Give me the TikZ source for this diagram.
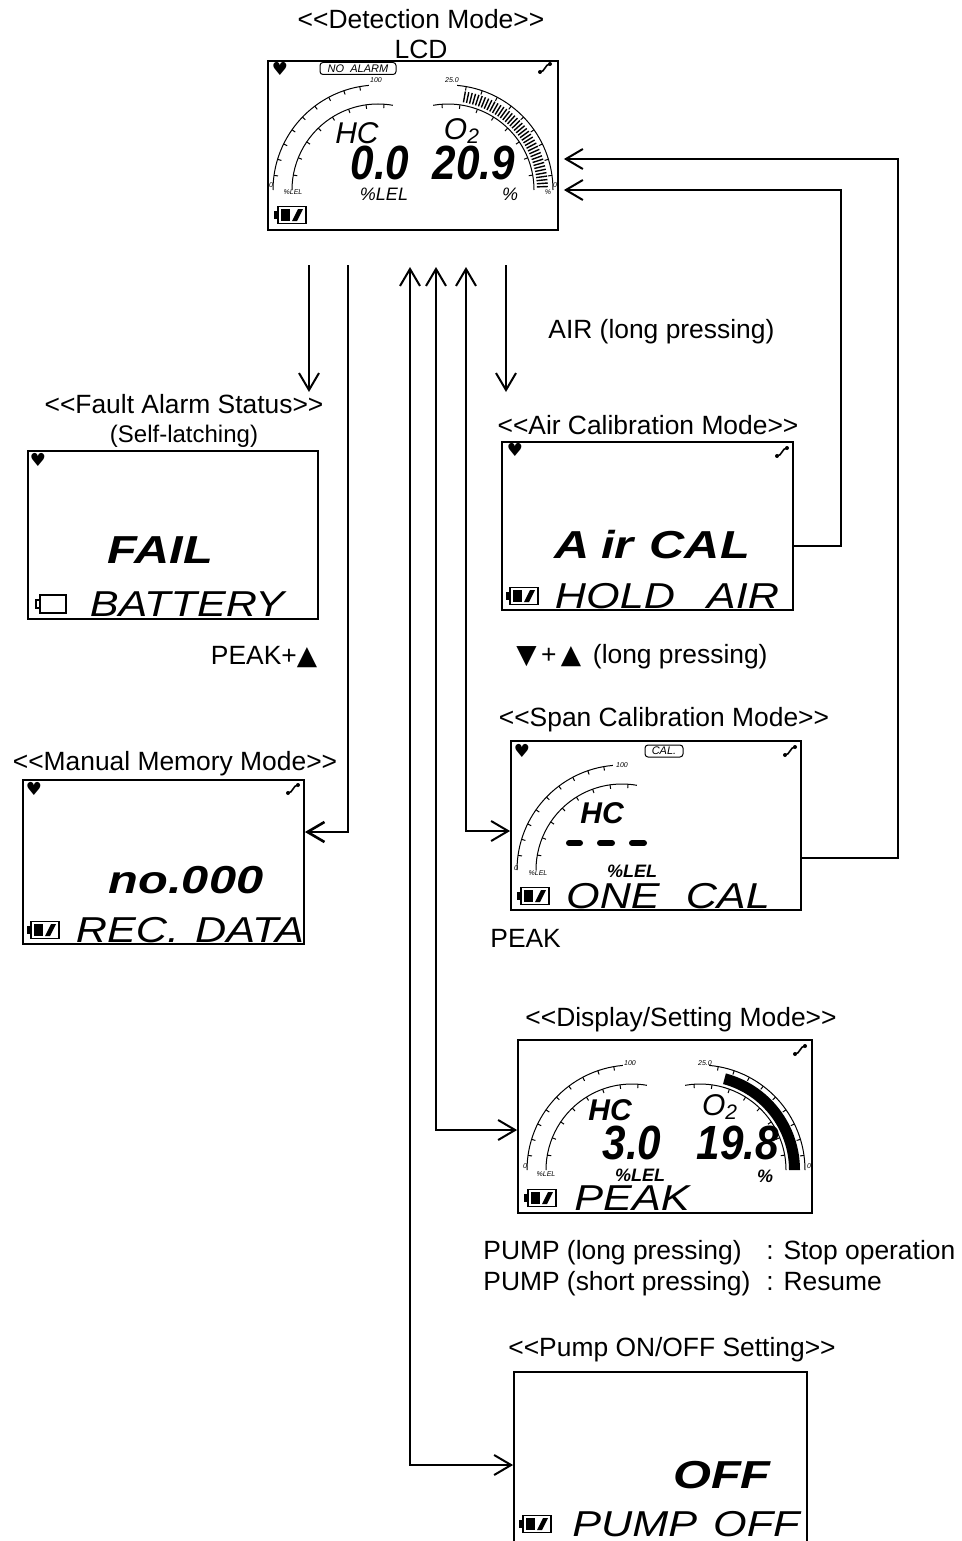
\documentclass[tikz,border=0pt]{standalone}
\usepackage{fontspec}
\setmainfont{Liberation Sans}
\newfontfamily\symfont{DejaVu Sans}
\newfontfamily\segbig[FakeStretch=1.25]{Liberation Sans}
\newfontfamily\seglow[FakeStretch=1.2]{Liberation Sans}
\newfontfamily\segnum[FakeStretch=0.88]{Liberation Sans}
\usetikzlibrary{arrows.meta}
\newcommand\dlt{<\kern0pt<}
\newcommand\dgt{>\kern0pt>}
\tikzset{
  lcd/.style={draw, line width=0.9pt, inner sep=0pt},
  ttl/.style={font=\fontsize{13.2}{15}\selectfont, inner sep=1pt, text height=9.5pt, text depth=0pt},
  lbl/.style={ttl, anchor=west, inner sep=0pt},
  seg/.style={font=\segbig\itshape\bfseries\fontsize{19.5}{20}\selectfont, inner sep=0pt},
  segl/.style={font=\seglow\itshape\fontsize{18}{18}\selectfont, inner sep=0pt},
  num/.style={font=\segnum\itshape\bfseries\fontsize{24}{24}\selectfont, inner sep=0pt},
  gas/.style={font=\itshape\fontsize{15}{15}\selectfont, inner sep=0pt},
  unit/.style={font=\itshape\fontsize{9}{9}\selectfont, inner sep=0pt},
  dialtxt/.style={font=\itshape\fontsize{3.5}{4}\selectfont, inner sep=0pt},
  hrt/.style={font=\symfont\fontsize{9}{9}\selectfont, inner sep=0pt},
  badge/.style={draw, rounded corners=1.5pt, line width=0.5pt, font=\itshape\fontsize{5.5}{6}\selectfont, inner sep=0.6pt, minimum height=6pt},
  >={Straight Barb[length=8.5pt,width=10pt]},
  arr/.style={->, line width=1pt},
  arr2/.style={<->, line width=1pt},
  hcdial/.pic={
    \draw[line width=0.5pt] (-180:105) arc[start angle=-180,end angle=-95,radius=105];
    \draw[line width=0.5pt] (-180:86) arc[start angle=-180,end angle=-80,radius=86];
    \foreach \a in {-172,-163,...,-100} \draw[line width=0.5pt] (\a:105) -- (\a:101);
    \foreach \a in {-170,-158,...,-86} \draw[line width=0.5pt] (\a:86) -- (\a:82);
  },
  otdial/.pic={
    \draw[line width=0.5pt] (-85:105) arc[start angle=-85,end angle=0,radius=105];
    \draw[line width=0.5pt] (-100:86) arc[start angle=-100,end angle=0,radius=86];
    \foreach \a in {-80,-71,...,-8} \draw[line width=0.5pt] (\a:105) -- (\a:101);
    \foreach \a in {-94,-82,...,-10} \draw[line width=0.5pt] (\a:86) -- (\a:82);
  },
  batt/.pic={
    \draw[line width=0.8pt] (-12,-8.5) rectangle (16,8.5);
    \fill (-16,-4) rectangle (-12,4);
    \fill (-9,-6) rectangle (0,6);
    \fill (2,6) -- (7,6) -- (13,-6) -- (8,-6) -- cycle;
  },
  battempty/.pic={
    \draw[line width=0.8pt] (-11,-9) rectangle (15,9);
    \draw[line width=0.8pt] (-11,-4) -- (-15,-4) -- (-15,4) -- (-11,4);
  },
  pumpico/.pic={
    \fill (-5,4) circle (2);
    \fill (5,-4) circle (2);
    \draw[line width=0.8pt] (-5,4) .. controls (0,4) and (0,-4) .. (5,-4);
  }
}
\begin{document}
\begin{tikzpicture}[x=0.5pt,y=-0.5pt]
\useasboundingbox (0,0) rectangle (962,1541);
\clip (0,0) rectangle (962,1541);

% titles and labels
\node[ttl] (tdet) at (421,19) {\dlt Detection Mode\dgt};
\node[ttl] (tlcd) at (421,49) {LCD};
\node[ttl] (tfault) at (184,404) {\dlt Fault Alarm Status\dgt};
\node[ttl, font=\fontsize{12}{14}\selectfont, text height=8.6pt] (tlatch) at (184,434) {(Self-latching)};
\node[ttl] (tair) at (648,425) {\dlt Air Calibration Mode\dgt};
\node[ttl] (tspan) at (664,717) {\dlt Span Calibration Mode\dgt};
\node[ttl] (tmem) at (175,761) {\dlt Manual Memory Mode\dgt};
\node[ttl] (tdisp) at (681,1017) {\dlt Display/Setting Mode\dgt};
\node[ttl] (tpump) at (672,1347) {\dlt Pump ON/OFF Setting\dgt};
\node[lbl] (lair) at (548,329) {AIR (long pressing)};
\node[ttl] (lpeakup) at (264,655) {PEAK+{\symfont ▲}};
\node[lbl] (lcal) at (516,654) {{\symfont ▼}\,+\,{\symfont ▲}\, (long pressing)};
\node[lbl] (lpeak) at (490,938) {PEAK};
\node[lbl] (lpl) at (483,1250) {PUMP (long pressing)};
\node[lbl] (lpls) at (766,1250) {: Stop operation};
\node[lbl] (lps) at (483,1281) {PUMP (short pressing)};
\node[lbl] (lpsr) at (766,1281) {: Resume};

% LCD screens
\node[lcd, minimum width=145pt, minimum height=84.5pt] (det) at (413,145.5) {};
\node[lcd, minimum width=145pt, minimum height=84pt] (fault) at (173,535) {};
\node[lcd, minimum width=145.5pt, minimum height=84pt] (aircal) at (647.5,526) {};
\node[lcd, minimum width=140.5pt, minimum height=82pt] (mem) at (163.5,862) {};
\node[lcd, minimum width=145pt, minimum height=84.5pt] (span) at (656,825.5) {};
\node[lcd, minimum width=147pt, minimum height=86.5pt] (disp) at (665,1126.5) {};
\node[lcd, minimum width=146.5pt, minimum height=99pt] (pump) at (660.5,1471) {};

% detection mode
\node[hrt] (dhrt) at (280,69) {♥};
\node[badge, minimum width=38pt] (dnoal) at (358,68.5) {NO\ \ ALARM};
\pic at (545,68) {pumpico};
\pic at (378,190) {hcdial};
\pic at (448,190) {otdial};
\begin{scope}[shift={(448,190)}]
  \foreach \a in {-80,-78,...,-2} \draw[line width=0.7pt] (\a:89) -- (\a:100);
\end{scope}
\node[dialtxt] (d100) at (376,80) {100};
\node[dialtxt] (d250) at (452,80) {25.0};
\node[dialtxt] (dz1) at (271,185) {0};
\node[dialtxt] (dz2) at (555,185) {0};
\node[dialtxt] (dlel) at (293,192) {\%LEL};
\node[dialtxt] (dpct) at (548,192) {\%};
\node[gas] (dhc) at (357,133) {HC};
\node[gas] (do2) at (462,131) {O\textsubscript{2}};
\node[num] (dhcv) at (380,163) {0.0};
\node[num] (do2v) at (474,163) {20.9};
\node[unit] (dlelu) at (384,194) {\%LEL};
\node[unit] (dpctu) at (510,194) {\%};
\pic at (290,215) {batt};

% fault alarm status
\node[hrt] (fhrt) at (38,460) {♥};
\node[seg] (ffail) at (160,550) {FAIL};
\pic at (51,604) {battempty};
\node[segl] (fbat) at (187,604) {BATTERY};

% air calibration
\node[hrt] (ahrt) at (515,450) {♥};
\pic at (782,452) {pumpico};
\node[seg] (aaircal) at (652,545) {A\hspace{6pt}ir\hspace{8pt}CAL};
\pic at (522,596) {batt};
\node[segl] (ahold) at (667,596) {HOLD\hspace{16pt}AIR};

% manual memory
\node[hrt] (mhrt) at (34,789) {♥};
\pic at (293,789) {pumpico};
\node[seg] (mno) at (186,880) {no.000};
\pic at (43,930) {batt};
\node[segl] (mrec) at (190,930) {REC.\hspace{8pt}DATA};

% span calibration
\node[hrt] (shrt) at (522,751) {♥};
\node[badge, minimum width=19pt] (scal) at (664,751) {CAL.};
\pic at (790,751) {pumpico};
\pic at (622,870) {hcdial};
\node[dialtxt] (s100) at (622,765) {100};
\node[dialtxt] (sz) at (516,868) {0};
\node[dialtxt] (slel) at (538,873) {\%LEL};
\node[gas, font=\itshape\bfseries\fontsize{15}{15}\selectfont] (shc) at (602,813) {HC};
\draw[line width=3pt, line cap=round] (569,843) -- (580,843) (600,843) -- (612,843) (632,843) -- (644,843);
\node[unit, font=\itshape\bfseries\fontsize{9}{9}\selectfont] (slelu) at (632,871) {\%LEL};
\pic at (533,896) {batt};
\node[segl] (sone) at (668,896) {ONE\hspace{13pt}CAL};

% display / setting
\pic at (800,1050) {pumpico};
\pic at (632,1170) {hcdial};
\pic at (700,1170) {otdial};
\begin{scope}[shift={(700,1170)}]
  \fill (-75:89) arc[start angle=-75,end angle=0,radius=89] -- (0:100) arc[start angle=0,end angle=-75,radius=100] -- cycle;
\end{scope}
\node[dialtxt] (p100) at (630,1063) {100};
\node[dialtxt] (p250) at (705,1063) {25.0};
\node[dialtxt] (pz1) at (525,1166) {0};
\node[dialtxt] (pz2) at (809,1166) {0};
\node[dialtxt] (plel) at (546,1174) {\%LEL};
\node[gas, font=\itshape\bfseries\fontsize{15}{15}\selectfont] (phc) at (610,1110) {HC};
\node[gas] (po2) at (720,1107) {O\textsubscript{2}};
\node[num] (phcv) at (632,1143) {3.0};
\node[num] (po2v) at (738,1143) {19.8};
\node[unit, font=\itshape\bfseries\fontsize{9}{9}\selectfont] (plelu) at (640,1175) {\%LEL};
\node[unit, font=\itshape\bfseries\fontsize{9}{9}\selectfont] (ppctu) at (765,1176) {\%};
\pic at (540,1198) {batt};
\node[segl] (ppeak) at (632,1198) {PEAK};

% pump on/off
\node[seg] (uoff) at (722,1475) {OFF};
\pic at (535,1524) {batt};
\node[segl] (upump) at (686,1524) {PUMP\hspace{8pt}OFF};

% connectors
\coordinate (f1) at (309,265);
\coordinate (f2) at (309,392);
\draw[arr] (f1) -- (f2);
\coordinate (m1) at (348,265);
\coordinate (m2) at (348,832);
\draw[arr, line width=1.3pt] (m1) -- (m2) -- (m2 -| mem.east);
\coordinate (p1) at (410,267);
\coordinate (p2) at (410,1465);
\draw[arr2] (p1) -- (p2) -- (p2 -| pump.west);
\coordinate (g1) at (436,267);
\coordinate (g2) at (436,1130);
\draw[arr2] (g1) -- (g2) -- (g2 -| disp.west);
\coordinate (c1) at (466,267);
\coordinate (c2) at (466,831);
\draw[arr2] (c1) -- (c2) -- (c2 -| span.west);
\coordinate (a1) at (506,265);
\coordinate (a2) at (506,392);
\draw[arr] (a1) -- (a2);
\coordinate (r1) at (841,546);
\coordinate (r2) at (841,190);
\draw[arr, shorten >=2.5pt] (r1 -| aircal.east) -- (r1) -- (r2) -- (r2 -| det.east);
\coordinate (q1) at (898,858);
\coordinate (q2) at (898,159);
\draw[arr, shorten >=2.5pt] (q1 -| span.east) -- (q1) -- (q2) -- (q2 -| det.east);
\end{tikzpicture}
\end{document}
